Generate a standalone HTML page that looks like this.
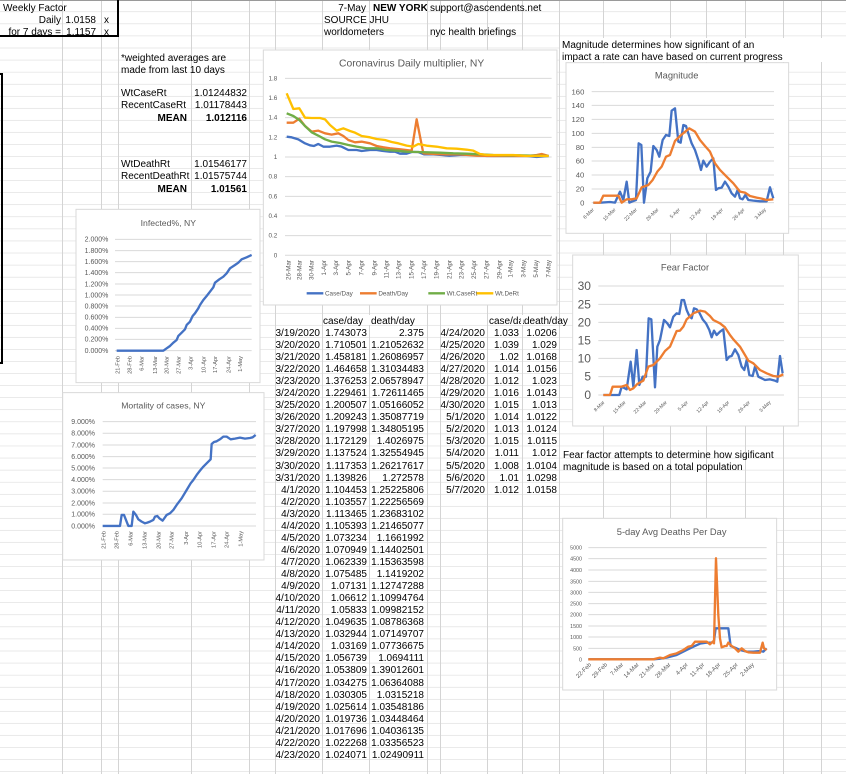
<!DOCTYPE html>
<html><head><meta charset="utf-8"><style>
html,body{margin:0;padding:0;background:#fff;}
svg{display:block;font-family:"Liberation Sans",sans-serif;}
.t{font-size:10px;fill:#000;}
.b{font-weight:bold;}
.ax{fill:#595959;}
</style></head><body>
<svg width="846" height="774" viewBox="0 0 846 774" xmlns="http://www.w3.org/2000/svg">
<defs>
<pattern id="rows" x="0" y="0" width="846" height="12.06" patternUnits="userSpaceOnUse">
<rect x="0" y="11.56" width="846" height="1" fill="#d4d4d4"/>
</pattern>
</defs>
<rect width="846" height="774" fill="#fff"/>
<rect width="846" height="774" fill="url(#rows)"/>
<g stroke="#d4d4d4" stroke-width="1">
<line x1="62.5" y1="0" x2="62.5" y2="774"/><line x1="101.5" y1="0" x2="101.5" y2="774"/>
<line x1="118.5" y1="0" x2="118.5" y2="774"/><line x1="191.5" y1="0" x2="191.5" y2="774"/>
<line x1="249.5" y1="0" x2="249.5" y2="774"/><line x1="275.5" y1="0" x2="275.5" y2="774"/>
<line x1="322.5" y1="0" x2="322.5" y2="774"/><line x1="369.5" y1="0" x2="369.5" y2="774"/>
<line x1="427.5" y1="0" x2="427.5" y2="774"/><line x1="440.5" y1="0" x2="440.5" y2="774"/>
<line x1="487.5" y1="0" x2="487.5" y2="774"/><line x1="522.5" y1="0" x2="522.5" y2="774"/>
<line x1="559.5" y1="0" x2="559.5" y2="774"/><line x1="603.5" y1="0" x2="603.5" y2="774"/>
<line x1="670.5" y1="0" x2="670.5" y2="774"/><line x1="706.5" y1="0" x2="706.5" y2="774"/>
<line x1="745.5" y1="0" x2="745.5" y2="774"/><line x1="783.5" y1="0" x2="783.5" y2="774"/>
<line x1="821.5" y1="0" x2="821.5" y2="774"/>
</g>
<line x1="0" y1="0.5" x2="846" y2="0.5" stroke="#9a9a9a"/>
<!-- thick borders -->
<polyline points="0,36 118,36 118,0" fill="none" stroke="#000" stroke-width="2"/>
<polyline points="0,74 2,74 2,363 0,363" fill="none" stroke="#000" stroke-width="2"/>

<!-- top-left texts -->
<text class="t" x="3" y="11">Weekly Factor</text>
<text class="t" x="61" y="23" text-anchor="end">Daily</text>
<text class="t" x="96" y="23" text-anchor="end">1.0158</text>
<text class="t" x="104" y="23">x</text>
<text class="t" x="61" y="35" text-anchor="end">for 7 days =</text>
<text class="t" x="96" y="35" text-anchor="end">1.1157</text>
<text class="t" x="104" y="35">x</text>
<text class="t" x="121" y="61">*weighted averages are</text>
<text class="t" x="121" y="73">made from last 10 days</text>
<text class="t" x="121" y="96">WtCaseRt</text><text class="t" x="247" y="96" text-anchor="end">1.01244832</text>
<text class="t" x="121" y="108">RecentCaseRt</text><text class="t" x="247" y="108" text-anchor="end">1.01178443</text>
<text class="t b" x="187" y="121" text-anchor="end">MEAN</text><text class="t b" x="247" y="121" text-anchor="end">1.012116</text>
<text class="t" x="121" y="167">WtDeathRt</text><text class="t" x="247" y="167" text-anchor="end">1.01546177</text>
<text class="t" x="121" y="179">RecentDeathRt</text><text class="t" x="247" y="179" text-anchor="end">1.01575744</text>
<text class="t b" x="187" y="192" text-anchor="end">MEAN</text><text class="t b" x="247" y="192" text-anchor="end">1.01561</text>

<!-- top center -->
<text class="t" x="366" y="11" text-anchor="end">7-May</text>
<rect x="370" y="1" width="57" height="11" fill="#fff"/>
<svg x="370" y="0" width="57" height="14"><text class="t b" x="3" y="11">NEW YORK</text></svg>
<text class="t" x="430" y="11">support@ascendents.net</text>
<text class="t" x="324" y="23">SOURCE JHU</text>
<text class="t" x="324" y="35">worldometers</text>
<text class="t" x="430" y="35">nyc health briefings</text>
<rect x="560" y="38" width="286" height="24" fill="#fff"/>
<text class="t" x="562" y="48">Magnitude determines how significant of an</text>
<text class="t" x="562" y="60">impact a rate can have based on current progress</text>
<text class="t" x="563" y="458">Fear factor attempts to determine how sigificant</text>
<text class="t" x="563" y="470">magnitude is based on a total population</text>

<!-- tables -->
<g class="t">
<rect x="323" y="315" width="100" height="10" fill="#fff"/>
<text class="t" x="323" y="324">case/day</text><text class="t" x="371" y="324">death/day</text>
<text class="t" x="489" y="324">case/da</text><rect x="521" y="315" width="2" height="10" fill="#fff"/><text class="t" x="524" y="324">death/day</text>
</g>
<g class="t" font-size="10">
<g text-anchor="end">
<text x="320" y="336">3/19/2020</text><text x="367" y="336">1.743073</text><text x="424" y="336">2.375</text>
<text x="320" y="348">3/20/2020</text><text x="367" y="348">1.710501</text><text x="424" y="348">1.21052632</text>
<text x="320" y="360">3/21/2020</text><text x="367" y="360">1.458181</text><text x="424" y="360">1.26086957</text>
<text x="320" y="372">3/22/2020</text><text x="367" y="372">1.464658</text><text x="424" y="372">1.31034483</text>
<text x="320" y="384">3/23/2020</text><text x="367" y="384">1.376253</text><text x="424" y="384">2.06578947</text>
<text x="320" y="396">3/24/2020</text><text x="367" y="396">1.229461</text><text x="424" y="396">1.72611465</text>
<text x="320" y="408">3/25/2020</text><text x="367" y="408">1.200507</text><text x="424" y="408">1.05166052</text>
<text x="320" y="420">3/26/2020</text><text x="367" y="420">1.209243</text><text x="424" y="420">1.35087719</text>
<text x="320" y="432">3/27/2020</text><text x="367" y="432">1.197998</text><text x="424" y="432">1.34805195</text>
<text x="320" y="444">3/28/2020</text><text x="367" y="444">1.172129</text><text x="424" y="444">1.4026975</text>
<text x="320" y="456">3/29/2020</text><text x="367" y="456">1.137524</text><text x="424" y="456">1.32554945</text>
<text x="320" y="469">3/30/2020</text><text x="367" y="469">1.117353</text><text x="424" y="469">1.26217617</text>
<text x="320" y="481">3/31/2020</text><text x="367" y="481">1.139826</text><text x="424" y="481">1.272578</text>
<text x="320" y="493">4/1/2020</text><text x="367" y="493">1.104453</text><text x="424" y="493">1.25225806</text>
<text x="320" y="505">4/2/2020</text><text x="367" y="505">1.103557</text><text x="424" y="505">1.22256569</text>
<text x="320" y="517">4/3/2020</text><text x="367" y="517">1.113465</text><text x="424" y="517">1.23683102</text>
<text x="320" y="529">4/4/2020</text><text x="367" y="529">1.105393</text><text x="424" y="529">1.21465077</text>
<text x="320" y="541">4/5/2020</text><text x="367" y="541">1.073234</text><text x="424" y="541">1.1661992</text>
<text x="320" y="553">4/6/2020</text><text x="367" y="553">1.070949</text><text x="424" y="553">1.14402501</text>
<text x="320" y="565">4/7/2020</text><text x="367" y="565">1.062339</text><text x="424" y="565">1.15363598</text>
<text x="320" y="577">4/8/2020</text><text x="367" y="577">1.075485</text><text x="424" y="577">1.1419202</text>
<text x="320" y="589">4/9/2020</text><text x="367" y="589">1.07131</text><text x="424" y="589">1.12747288</text>
<text x="320" y="601">4/10/2020</text><text x="367" y="601">1.06612</text><text x="424" y="601">1.10994764</text>
<text x="320" y="613">4/11/2020</text><text x="367" y="613">1.05833</text><text x="424" y="613">1.09982152</text>
<text x="320" y="625">4/12/2020</text><text x="367" y="625">1.049635</text><text x="424" y="625">1.08786368</text>
<text x="320" y="637">4/13/2020</text><text x="367" y="637">1.032944</text><text x="424" y="637">1.07149707</text>
<text x="320" y="649">4/14/2020</text><text x="367" y="649">1.03169</text><text x="424" y="649">1.07736675</text>
<text x="320" y="661">4/15/2020</text><text x="367" y="661">1.056739</text><text x="424" y="661">1.0694111</text>
<text x="320" y="673">4/16/2020</text><text x="367" y="673">1.053809</text><text x="424" y="673">1.39012601</text>
<text x="320" y="686">4/17/2020</text><text x="367" y="686">1.034275</text><text x="424" y="686">1.06364088</text>
<text x="320" y="698">4/18/2020</text><text x="367" y="698">1.030305</text><text x="424" y="698">1.0315218</text>
<text x="320" y="710">4/19/2020</text><text x="367" y="710">1.025614</text><text x="424" y="710">1.03548186</text>
<text x="320" y="722">4/20/2020</text><text x="367" y="722">1.019736</text><text x="424" y="722">1.03448464</text>
<text x="320" y="734">4/21/2020</text><text x="367" y="734">1.017696</text><text x="424" y="734">1.04036135</text>
<text x="320" y="746">4/22/2020</text><text x="367" y="746">1.022268</text><text x="424" y="746">1.03356523</text>
<text x="320" y="758">4/23/2020</text><text x="367" y="758">1.024071</text><text x="424" y="758">1.02490911</text>

<text x="485" y="336">4/24/2020</text><text x="519" y="336">1.033</text><text x="557" y="336">1.0206</text>
<text x="485" y="348">4/25/2020</text><text x="519" y="348">1.039</text><text x="557" y="348">1.029</text>
<text x="485" y="360">4/26/2020</text><text x="519" y="360">1.02</text><text x="557" y="360">1.0168</text>
<text x="485" y="372">4/27/2020</text><text x="519" y="372">1.014</text><text x="557" y="372">1.0156</text>
<text x="485" y="384">4/28/2020</text><text x="519" y="384">1.012</text><text x="557" y="384">1.023</text>
<text x="485" y="396">4/29/2020</text><text x="519" y="396">1.016</text><text x="557" y="396">1.0143</text>
<text x="485" y="408">4/30/2020</text><text x="519" y="408">1.015</text><text x="557" y="408">1.013</text>
<text x="485" y="420">5/1/2020</text><text x="519" y="420">1.014</text><text x="557" y="420">1.0122</text>
<text x="485" y="432">5/2/2020</text><text x="519" y="432">1.013</text><text x="557" y="432">1.0124</text>
<text x="485" y="444">5/3/2020</text><text x="519" y="444">1.015</text><text x="557" y="444">1.0115</text>
<text x="485" y="456">5/4/2020</text><text x="519" y="456">1.011</text><text x="557" y="456">1.012</text>
<text x="485" y="469">5/5/2020</text><text x="519" y="469">1.008</text><text x="557" y="469">1.0104</text>
<text x="485" y="481">5/6/2020</text><text x="519" y="481">1.01</text><text x="557" y="481">1.0298</text>
<text x="485" y="493">5/7/2020</text><text x="519" y="493">1.012</text><text x="557" y="493">1.0158</text>
</g></g>

<!-- MAIN CHART -->
<g transform="translate(260,40) scale(0.3333)">
<rect x="10" y="30" width="881" height="765" fill="#fff" stroke="#d9d9d9" stroke-width="3"/>
<text x="455" y="80" font-size="31" fill="#595959" text-anchor="middle">Coronavirus Daily multiplier, NY</text>
<g stroke="#d9d9d9" stroke-width="3">
<line x1="75" y1="115" x2="875" y2="115"/><line x1="75" y1="174" x2="875" y2="174"/><line x1="75" y1="233" x2="875" y2="233"/>
<line x1="75" y1="292" x2="875" y2="292"/><line x1="75" y1="351" x2="875" y2="351"/><line x1="75" y1="410" x2="875" y2="410"/>
<line x1="75" y1="469" x2="875" y2="469"/><line x1="75" y1="528" x2="875" y2="528"/><line x1="75" y1="587" x2="875" y2="587"/>
<line x1="75" y1="646" x2="875" y2="646"/>
</g>
<g font-size="19" fill="#595959" text-anchor="end">
<text x="52" y="121">1.8</text><text x="52" y="180">1.6</text><text x="52" y="239">1.4</text><text x="52" y="298">1.2</text>
<text x="52" y="357">1</text><text x="52" y="416">0.8</text><text x="52" y="475">0.6</text><text x="52" y="534">0.4</text>
<text x="52" y="593">0.2</text><text x="52" y="652">0</text>
</g>
<g font-size="19" fill="#595959" text-anchor="end">
<text transform="translate(91,660) rotate(-90)">26-Mar</text><text transform="translate(124,660) rotate(-90)">28-Mar</text>
<text transform="translate(161,660) rotate(-90)">30-Mar</text><text transform="translate(198,660) rotate(-90)">1-Apr</text>
<text transform="translate(234,660) rotate(-90)">3-Apr</text><text transform="translate(271,660) rotate(-90)">5-Apr</text>
<text transform="translate(311,660) rotate(-90)">7-Apr</text><text transform="translate(349,660) rotate(-90)">9-Apr</text>
<text transform="translate(386,660) rotate(-90)">11-Apr</text><text transform="translate(421,660) rotate(-90)">13-Apr</text>
<text transform="translate(461,660) rotate(-90)">15-Apr</text><text transform="translate(498,660) rotate(-90)">17-Apr</text>
<text transform="translate(536,660) rotate(-90)">19-Apr</text><text transform="translate(574,660) rotate(-90)">21-Apr</text>
<text transform="translate(611,660) rotate(-90)">23-Apr</text><text transform="translate(648,660) rotate(-90)">25-Apr</text>
<text transform="translate(686,660) rotate(-90)">27-Apr</text><text transform="translate(724,660) rotate(-90)">29-Apr</text>
<text transform="translate(758,660) rotate(-90)">1-May</text><text transform="translate(796,660) rotate(-90)">3-May</text>
<text transform="translate(834,660) rotate(-90)">5-May</text><text transform="translate(872,660) rotate(-90)">7-May</text>
</g>
<g fill="none" stroke-width="7" stroke-linejoin="round">
<polyline stroke="#4472c4" points="80,290 95,292 115,298 135,310 150,316 162,318 175,312 190,320 210,320 230,317 245,320 265,330 290,330 305,333 330,330 350,330 370,333 390,335 405,335 420,341 440,341 455,336 475,336 492,343 520,343 545,345 568,347 600,345 640,345 680,348 720,348 760,348 800,348 830,351 866,348"/>
<polyline stroke="#ed7d31" points="80,248 100,248 118,236 135,258 155,275 175,272 195,280 215,284 235,280 250,288 265,300 285,307 305,305 330,310 350,318 370,322 390,325 420,328 455,332 470,238 490,340 520,342 560,343 600,343 650,347 700,348 750,348 800,348 830,345 845,342 866,348"/>
<polyline stroke="#70ad47" points="80,220 100,228 118,240 135,258 155,277 175,287 195,298 215,305 240,309 265,315 290,320 320,325 350,325 380,330 410,332 440,335 470,336 500,337 540,338 580,340 620,341 660,343 700,345 740,346 780,346 820,347 866,348"/>
<polyline stroke="#ffc000" points="80,160 100,207 118,205 135,233 155,234 180,234 195,238 210,255 230,272 250,265 270,273 285,278 305,288 330,292 350,297 375,300 395,306 415,310 440,317 460,320 475,312 500,317 530,320 560,325 590,326 620,329 640,332 660,342 680,345 720,345 760,345 800,348 866,348"/>
</g>
<g font-size="19" fill="#595959">
<line x1="140" y1="760" x2="190" y2="760" stroke="#4472c4" stroke-width="7"/><text x="195" y="766">Case/Day</text>
<line x1="300" y1="760" x2="350" y2="760" stroke="#ed7d31" stroke-width="7"/><text x="355" y="766">Death/Day</text>
<line x1="505" y1="760" x2="555" y2="760" stroke="#70ad47" stroke-width="7"/><text x="560" y="766">Wt.CaseRt</text>
<line x1="650" y1="760" x2="700" y2="760" stroke="#ffc000" stroke-width="7"/><text x="705" y="766">Wt.DeRt</text>
</g>
</g>

<!-- INFECTED & MORTALITY -->
<g transform="translate(60,200) scale(0.3333)">
<rect x="48" y="28" width="552" height="520" fill="#fff" stroke="#d9d9d9" stroke-width="3"/>
<text x="325" y="78" font-size="26" fill="#595959" text-anchor="middle">Infected%, NY</text>
<g stroke="#d9d9d9" stroke-width="3">
<line x1="165" y1="118" x2="575" y2="118"/><line x1="165" y1="152" x2="575" y2="152"/><line x1="165" y1="185" x2="575" y2="185"/>
<line x1="165" y1="218" x2="575" y2="218"/><line x1="165" y1="252" x2="575" y2="252"/><line x1="165" y1="285" x2="575" y2="285"/>
<line x1="165" y1="318" x2="575" y2="318"/><line x1="165" y1="352" x2="575" y2="352"/><line x1="165" y1="385" x2="575" y2="385"/>
<line x1="165" y1="418" x2="575" y2="418"/><line x1="165" y1="452" x2="575" y2="452"/>
</g>
<g font-size="21" fill="#595959" text-anchor="end">
<text x="145" y="125">2.000%</text><text x="145" y="159">1.800%</text><text x="145" y="192">1.600%</text><text x="145" y="225">1.400%</text>
<text x="145" y="259">1.200%</text><text x="145" y="292">1.000%</text><text x="145" y="325">0.800%</text><text x="145" y="359">0.600%</text>
<text x="145" y="392">0.400%</text><text x="145" y="425">0.200%</text><text x="145" y="459">0.000%</text>
</g>
<g font-size="17" fill="#595959" text-anchor="end">
<text transform="translate(178,468) rotate(-90)">21-Feb</text><text transform="translate(214,468) rotate(-90)">28-Feb</text>
<text transform="translate(251,468) rotate(-90)">6-Mar</text><text transform="translate(291,468) rotate(-90)">13-Mar</text>
<text transform="translate(326,468) rotate(-90)">20-Mar</text><text transform="translate(361,468) rotate(-90)">27-Mar</text>
<text transform="translate(398,468) rotate(-90)">3-Apr</text><text transform="translate(436,468) rotate(-90)">10-Apr</text>
<text transform="translate(471,468) rotate(-90)">17-Apr</text><text transform="translate(511,468) rotate(-90)">24-Apr</text>
<text transform="translate(546,468) rotate(-90)">1-May</text>
</g>
<polyline fill="none" stroke="#4472c4" stroke-width="7" stroke-linejoin="round" points="170,452 310,452 320,445 330,438 340,428 350,420 355,408 365,398 375,388 380,375 390,365 398,348 405,340 415,325 420,315 430,300 440,288 450,275 460,262 465,248 478,238 490,230 500,220 510,205 525,195 535,188 545,178 560,172 575,165"/>

<rect x="8" y="578" width="604" height="502" fill="#fff" stroke="#d9d9d9" stroke-width="3"/>
<text x="310" y="625" font-size="26" fill="#595959" text-anchor="middle">Mortality of cases, NY</text>
<g stroke="#d9d9d9" stroke-width="3">
<line x1="128" y1="665" x2="588" y2="665"/><line x1="128" y1="700" x2="588" y2="700"/><line x1="128" y1="735" x2="588" y2="735"/>
<line x1="128" y1="770" x2="588" y2="770"/><line x1="128" y1="804" x2="588" y2="804"/><line x1="128" y1="839" x2="588" y2="839"/>
<line x1="128" y1="874" x2="588" y2="874"/><line x1="128" y1="909" x2="588" y2="909"/><line x1="128" y1="943" x2="588" y2="943"/>
<line x1="128" y1="978" x2="588" y2="978"/>
</g>
<g font-size="21" fill="#595959" text-anchor="end">
<text x="105" y="672">9.000%</text><text x="105" y="707">8.000%</text><text x="105" y="742">7.000%</text><text x="105" y="777">6.000%</text>
<text x="105" y="811">5.000%</text><text x="105" y="846">4.000%</text><text x="105" y="881">3.000%</text><text x="105" y="916">2.000%</text>
<text x="105" y="950">1.000%</text><text x="105" y="985">0.000%</text>
</g>
<g font-size="17" fill="#595959" text-anchor="end">
<text transform="translate(136,993) rotate(-90)">21-Feb</text><text transform="translate(176,993) rotate(-90)">28-Feb</text>
<text transform="translate(218,993) rotate(-90)">6-Mar</text><text transform="translate(259,993) rotate(-90)">13-Mar</text>
<text transform="translate(301,993) rotate(-90)">20-Mar</text><text transform="translate(341,993) rotate(-90)">27-Mar</text>
<text transform="translate(384,993) rotate(-90)">3-Apr</text><text transform="translate(424,993) rotate(-90)">10-Apr</text>
<text transform="translate(466,993) rotate(-90)">17-Apr</text><text transform="translate(506,993) rotate(-90)">24-Apr</text>
<text transform="translate(548,993) rotate(-90)">1-May</text>
</g>
<polyline fill="none" stroke="#4472c4" stroke-width="7" stroke-linejoin="round" points="128,978 180,978 185,945 192,945 200,965 205,978 215,978 220,935 228,945 235,958 245,965 255,970 262,968 270,965 280,960 285,950 292,948 298,955 308,962 320,945 330,940 340,930 350,915 365,895 380,870 392,850 400,840 410,825 420,812 430,800 440,790 452,778 455,732 462,726 470,724 480,718 490,710 500,710 512,718 525,716 540,713 555,716 570,714 578,712 587,705"/>
</g>

<!-- MAGNITUDE -->
<g transform="translate(560,40) scale(0.3333)">
<rect x="18" y="68" width="668" height="512" fill="#fff" stroke="#d9d9d9" stroke-width="3"/>
<text x="350" y="115" font-size="28" fill="#595959" text-anchor="middle">Magnitude</text>
<g stroke="#d9d9d9" stroke-width="3">
<line x1="95" y1="155" x2="642" y2="155"/><line x1="95" y1="196" x2="642" y2="196"/><line x1="95" y1="238" x2="642" y2="238"/>
<line x1="95" y1="280" x2="642" y2="280"/><line x1="95" y1="322" x2="642" y2="322"/><line x1="95" y1="363" x2="642" y2="363"/>
<line x1="95" y1="405" x2="642" y2="405"/><line x1="95" y1="447" x2="642" y2="447"/><line x1="95" y1="488" x2="642" y2="488"/>
</g>
<g font-size="23" fill="#595959" text-anchor="end">
<text x="73" y="163">160</text><text x="73" y="204">140</text><text x="73" y="246">120</text><text x="73" y="288">100</text>
<text x="73" y="330">80</text><text x="73" y="371">60</text><text x="73" y="413">40</text><text x="73" y="455">20</text><text x="73" y="496">0</text>
</g>
<g font-size="15" fill="#595959" text-anchor="end">
<text transform="translate(103,510) rotate(-45)">8-Mar</text><text transform="translate(168,510) rotate(-45)">15-Mar</text>
<text transform="translate(232,510) rotate(-45)">22-Mar</text><text transform="translate(297,510) rotate(-45)">29-Mar</text>
<text transform="translate(361,510) rotate(-45)">5-Apr</text><text transform="translate(426,510) rotate(-45)">12-Apr</text>
<text transform="translate(490,510) rotate(-45)">19-Apr</text><text transform="translate(555,510) rotate(-45)">26-Apr</text>
<text transform="translate(619,510) rotate(-45)">3-May</text>
</g>
<g fill="none" stroke-width="7" stroke-linejoin="round">
<polyline stroke="#4472c4" points="100,488 120,488 150,486 165,488 180,455 190,480 200,425 208,488 215,485 228,480 236,310 244,315 252,488 262,415 272,395 280,318 290,330 298,350 308,300 318,285 328,288 335,212 345,205 355,305 362,308 370,255 378,258 385,280 395,310 405,330 415,360 423,390 430,362 440,380 450,365 460,355 468,450 475,445 485,443 495,425 505,440 515,460 525,470 533,450 540,475 548,478 556,465 565,480 580,482 600,484 620,484 630,442 640,475"/>
<polyline stroke="#ed7d31" points="100,488 120,488 130,467 175,467 185,488 200,478 215,478 230,475 245,442 265,435 278,420 292,395 305,380 318,350 330,345 345,303 358,290 372,278 388,265 405,275 420,300 435,318 450,335 465,370 480,390 500,410 520,430 540,455 555,458 570,468 590,473 605,476 620,480 640,478"/>
</g>
</g>

<!-- FEAR FACTOR -->
<g transform="translate(560,250) scale(0.3333)">
<rect x="38" y="15" width="677" height="513" fill="#fff" stroke="#d9d9d9" stroke-width="3"/>
<text x="375" y="62" font-size="28" fill="#595959" text-anchor="middle">Fear Factor</text>
<g stroke="#d9d9d9" stroke-width="3">
<line x1="115" y1="108" x2="672" y2="108"/><line x1="115" y1="163" x2="672" y2="163"/><line x1="115" y1="217" x2="672" y2="217"/>
<line x1="115" y1="272" x2="672" y2="272"/><line x1="115" y1="325" x2="672" y2="325"/><line x1="115" y1="380" x2="672" y2="380"/>
<line x1="115" y1="435" x2="672" y2="435"/>
</g>
<g font-size="36" fill="#595959" text-anchor="end">
<text x="93" y="120">30</text><text x="93" y="175">25</text><text x="93" y="229">20</text><text x="93" y="284">15</text>
<text x="93" y="337">10</text><text x="93" y="392">5</text><text x="93" y="447">0</text>
</g>
<g font-size="15" fill="#595959" text-anchor="end">
<text transform="translate(135,458) rotate(-45)">8-Mar</text><text transform="translate(198,458) rotate(-45)">15-Mar</text>
<text transform="translate(260,458) rotate(-45)">22-Mar</text><text transform="translate(322,458) rotate(-45)">29-Mar</text>
<text transform="translate(385,458) rotate(-45)">5-Apr</text><text transform="translate(447,458) rotate(-45)">12-Apr</text>
<text transform="translate(509,458) rotate(-45)">19-Apr</text><text transform="translate(571,458) rotate(-45)">26-Apr</text>
<text transform="translate(633,458) rotate(-45)">3-May</text>
</g>
<g fill="none" stroke-width="7" stroke-linejoin="round">
<polyline stroke="#4472c4" points="130,435 178,435 185,410 200,418 212,335 220,410 230,300 238,405 248,380 258,380 266,205 274,208 285,412 292,290 300,270 312,210 322,220 330,232 340,200 350,190 358,192 365,150 372,150 380,180 388,198 395,205 402,175 410,178 418,188 428,208 438,220 448,240 455,262 462,242 470,255 480,245 490,238 500,330 508,320 515,318 525,298 535,315 545,350 553,360 560,330 568,375 578,378 585,350 595,380 605,385 615,390 630,388 645,392 652,395 660,318 668,370"/>
<polyline stroke="#ed7d31" points="130,435 150,435 158,410 185,410 200,405 210,420 220,415 232,402 250,392 265,350 280,345 300,325 315,303 330,290 350,243 360,242 370,230 380,208 400,190 420,182 435,185 450,198 460,210 480,220 495,232 510,255 520,268 540,290 555,315 565,332 580,340 600,360 620,370 640,378 655,380 670,373"/>
</g>
</g>

<!-- 5-DAY AVG -->
<g transform="translate(560,515) scale(0.3333)">
<rect x="8" y="10" width="642" height="515" fill="#fff" stroke="#d9d9d9" stroke-width="3"/>
<text x="335" y="60" font-size="28" fill="#595959" text-anchor="middle">5-day Avg Deaths Per Day</text>
<g stroke="#d9d9d9" stroke-width="3">
<line x1="85" y1="98" x2="620" y2="98"/><line x1="85" y1="131" x2="620" y2="131"/><line x1="85" y1="165" x2="620" y2="165"/>
<line x1="85" y1="199" x2="620" y2="199"/><line x1="85" y1="232" x2="620" y2="232"/><line x1="85" y1="266" x2="620" y2="266"/>
<line x1="85" y1="299" x2="620" y2="299"/><line x1="85" y1="333" x2="620" y2="333"/><line x1="85" y1="366" x2="620" y2="366"/>
<line x1="85" y1="400" x2="620" y2="400"/><line x1="85" y1="433" x2="620" y2="433"/>
</g>
<g font-size="16" fill="#595959" text-anchor="end">
<text x="66" y="104">5000</text><text x="66" y="137">4500</text><text x="66" y="171">4000</text><text x="66" y="205">3500</text>
<text x="66" y="238">3000</text><text x="66" y="272">2500</text><text x="66" y="305">2000</text><text x="66" y="339">1500</text>
<text x="66" y="372">1000</text><text x="66" y="406">500</text><text x="66" y="439">0</text>
</g>
<g font-size="18" fill="#595959" text-anchor="end">
<text transform="translate(95,450) rotate(-45)">22-Feb</text><text transform="translate(143,450) rotate(-45)">29-Feb</text>
<text transform="translate(191,450) rotate(-45)">7-Mar</text><text transform="translate(238,450) rotate(-45)">14-Mar</text>
<text transform="translate(285,450) rotate(-45)">21-Mar</text><text transform="translate(333,450) rotate(-45)">28-Mar</text>
<text transform="translate(385,450) rotate(-45)">4-Apr</text><text transform="translate(434,450) rotate(-45)">11-Apr</text>
<text transform="translate(482,450) rotate(-45)">18-Apr</text><text transform="translate(535,450) rotate(-45)">25-Apr</text>
<text transform="translate(583,450) rotate(-45)">2-May</text>
</g>
<g fill="none" stroke-width="7" stroke-linejoin="round">
<polyline stroke="#4472c4" points="85,433 280,433 300,431 320,428 350,420 380,405 400,395 420,386 440,383 455,383 462,378 467,340 505,340 512,393 525,398 540,405 560,410 580,410 600,408 610,410 620,400"/>
<polyline stroke="#ed7d31" points="85,433 280,433 300,428 310,430 330,420 350,415 370,405 385,395 395,393 405,380 420,380 440,380 450,388 458,380 462,385 468,130 475,300 480,370 485,397 495,393 500,393 505,383 515,393 525,400 535,410 545,400 555,408 565,412 580,413 600,413 608,383 612,400 620,405"/>
</g>
</g>
</svg>
</body></html>
